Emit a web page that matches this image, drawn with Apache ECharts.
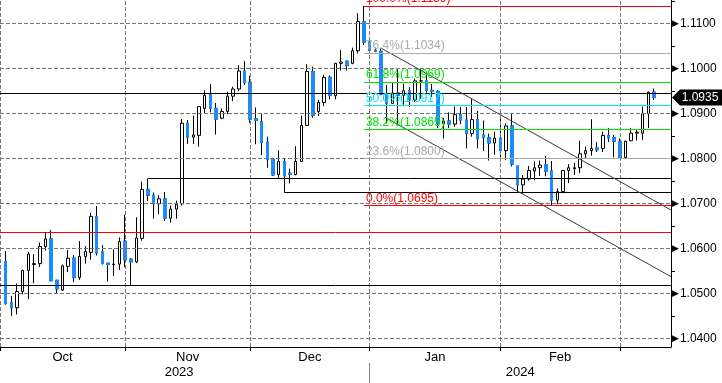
<!DOCTYPE html>
<html><head><meta charset="utf-8">
<script src="https://cdn.jsdelivr.net/npm/echarts@6/dist/echarts.min.js"></script>
<style>html,body{margin:0;padding:0;background:#fff}#c{width:722px;height:383px}</style>
</head><body><div id="c"></div>
<script>
// ---------- DATA ----------
const dataDates = [
'2023-10-02','2023-10-03','2023-10-04','2023-10-05','2023-10-06',
'2023-10-09','2023-10-10','2023-10-11','2023-10-12','2023-10-13',
'2023-10-16','2023-10-17','2023-10-18','2023-10-19','2023-10-20',
'2023-10-23','2023-10-24','2023-10-25','2023-10-26','2023-10-27',
'2023-10-30','2023-10-31',
'2023-11-01','2023-11-02','2023-11-03',
'2023-11-06','2023-11-07','2023-11-08','2023-11-09','2023-11-10',
'2023-11-13','2023-11-14','2023-11-15','2023-11-16','2023-11-17',
'2023-11-20','2023-11-21','2023-11-22','2023-11-23','2023-11-24',
'2023-11-27','2023-11-28','2023-11-29','2023-11-30',
'2023-12-01',
'2023-12-04','2023-12-05','2023-12-06','2023-12-07','2023-12-08',
'2023-12-11','2023-12-12','2023-12-13','2023-12-14','2023-12-15',
'2023-12-18','2023-12-19','2023-12-20','2023-12-21','2023-12-22',
'2023-12-25','2023-12-26','2023-12-27','2023-12-28','2023-12-29',
'2024-01-01','2024-01-02','2024-01-03','2024-01-04','2024-01-05',
'2024-01-08','2024-01-09','2024-01-10','2024-01-11','2024-01-12',
'2024-01-15','2024-01-16','2024-01-17','2024-01-18','2024-01-19',
'2024-01-22','2024-01-23','2024-01-24','2024-01-25','2024-01-26',
'2024-01-29','2024-01-30','2024-01-31',
'2024-02-01','2024-02-02',
'2024-02-05','2024-02-06','2024-02-07','2024-02-08','2024-02-09',
'2024-02-12','2024-02-13','2024-02-14','2024-02-15','2024-02-16',
'2024-02-19','2024-02-20','2024-02-21','2024-02-22','2024-02-23',
'2024-02-26','2024-02-27','2024-02-28','2024-02-29',
'2024-03-01',
'2024-03-04','2024-03-05','2024-03-06','2024-03-07','2024-03-08'
];
const padBefore = ['2023-09-29'];
const padAfter = ['2024-03-11','2024-03-12','2024-03-13'];

const openVals = [
1.0570,1.0479,1.0468,1.0504,1.0551, 1.0564,1.0566,1.0604,1.0621,1.0529, 1.0507,1.0560,1.0578,1.0535,1.0582, 1.0591,1.0671,1.0592,1.0567,1.0564, 1.0565,1.0616,
1.0576,1.0570,1.0622, 1.0731,1.0718,1.0699,1.0710,1.0667, 1.0687,1.0699,1.0878,1.0847,1.0851, 1.0911,1.0941,1.0911,1.0889,1.0904, 1.0938,1.0954,1.0994,1.0969,
1.0888, 1.0881,1.0836,1.0798,1.0764,1.0793, 1.0767,1.0764,1.0793,1.0873,1.0993, 1.0904,1.0924,1.0980,1.0939,1.1011, 1.1016,1.1011,1.1039,1.1104,1.1058,
1.1040,1.1038,1.0942,1.0922,1.0945, 1.0940,1.0950,1.0930,1.0972,1.0972, 1.0951,1.0949,1.0877,1.0883,1.0876, 1.0897,1.0885,1.0855,1.0886,1.0852, 1.0846,1.0834,1.0845,
1.0817,1.0872, 1.0783,1.0741,1.0754,1.0772,1.0779, 1.0786,1.0772,1.0707,1.0726,1.0773, 1.0777,1.0779,1.0810,1.0817,1.0823, 1.0822,1.0851,1.0846,1.0838,
1.0802, 1.0839,1.0856,1.0856,1.0899,1.0947
];
const highVals = [
1.0594,1.0494,1.0522,1.0552,1.0592, 1.0587,1.0613,1.0634,1.0641,1.0529, 1.0564,1.0596,1.0585,1.0616,1.0605, 1.0679,1.0694,1.0607,1.0567,1.0598, 1.0624,1.0675,
1.0578,1.0669,1.0748, 1.0755,1.0724,1.0718,1.0725,1.0695, 1.0706,1.0887,1.0885,1.0895,1.0915, 1.0951,1.0965,1.0923,1.0911,1.0948, 1.0959,1.1007,1.1016,1.0983,
1.0913, 1.0900,1.0848,1.0800,1.0818,1.0800, 1.0777,1.0827,1.0895,1.1009,1.1004, 1.0930,1.0986,1.0984,1.1012,1.1041, 1.1016,1.1046,1.1122,1.1139,1.1070,
1.1046,1.1045,1.0963,1.0968,1.0998, 1.0966,1.0958,1.0977,1.0999,1.0992, 1.0965,1.0952,1.0890,1.0902,1.0915, 1.0914,1.0914,1.0932,1.0905,1.0884, 1.0855,1.0859,1.0889,
1.0878,1.0898, 1.0783,1.0763,1.0783,1.0793,1.0795, 1.0805,1.0794,1.0733,1.0773,1.0787, 1.0790,1.0839,1.0826,1.0887,1.0836, 1.0859,1.0867,1.0852,1.0844,
1.0839, 1.0867,1.0863,1.0915,1.0948,1.0955
];
const lowVals = [
1.0475,1.0450,1.0453,1.0498,1.0487, 1.0522,1.0558,1.0595,1.0527,1.0500, 1.0505,1.0547,1.0525,1.0530,1.0566, 1.0575,1.0584,1.0564,1.0526,1.0538, 1.0552,1.0558,
1.0517,1.0567,1.0617, 1.0705,1.0666,1.0676,1.0661,1.0657, 1.0666,1.0695,1.0832,1.0832,1.0826, 1.0900,1.0902,1.0853,1.0887,1.0898, 1.0927,1.0949,1.0963,1.0879,
1.0831, 1.0807,1.0779,1.0761,1.0755,1.0724, 1.0744,1.0762,1.0792,1.0872,1.0890, 1.0894,1.0916,1.0931,1.0931,1.0995, 1.0995,1.1009,1.1033,1.1052,1.1035,
1.1036,1.0940,1.0877,1.0922,1.0877, 1.0916,1.0914,1.0925,1.0932,1.0946, 1.0936,1.0867,1.0844,1.0867,1.0870, 1.0876,1.0822,1.0848,1.0822,1.0816, 1.0795,1.0808,1.0793,
1.0796,1.0782, 1.0723,1.0722,1.0750,1.0751,1.0761, 1.0760,1.0695,1.0698,1.0722,1.0745, 1.0763,1.0767,1.0800,1.0806,1.0814, 1.0814,1.0836,1.0802,1.0799,
1.0799, 1.0838,1.0840,1.0841,1.0867,1.0930
];
const closeVals = [
1.0477,1.0468,1.0504,1.0551,1.0587, 1.0566,1.0604,1.0621,1.0528,1.0510, 1.0561,1.0578,1.0535,1.0582,1.0593, 1.0671,1.0590,1.0566,1.0564,1.0565, 1.0615,1.0574,
1.0570,1.0623,1.0731, 1.0718,1.0699,1.0710,1.0667,1.0687, 1.0698,1.0878,1.0847,1.0852,1.0915, 1.0940,1.0911,1.0887,1.0904,1.0938, 1.0954,1.0994,1.0968,1.0887,
1.0884, 1.0835,1.0798,1.0763,1.0793,1.0761, 1.0764,1.0793,1.0873,1.0993,1.0895, 1.0924,1.0980,1.0940,1.1011,1.1014, 1.1006,1.1039,1.1104,1.1058,1.1040,
1.1038,1.0942,1.0922,1.0945,1.0940, 1.0950,1.0930,1.0972,1.0972,1.0951, 1.0949,1.0877,1.0883,1.0876,1.0897, 1.0885,1.0855,1.0886,1.0843,1.0846, 1.0834,1.0845,1.0817,
1.0872,1.0787, 1.0741,1.0754,1.0773,1.0779,1.0785, 1.0771,1.0707,1.0726,1.0773,1.0779, 1.0779,1.0810,1.0817,1.0822,1.0819, 1.0851,1.0845,1.0838,1.0802,
1.0838, 1.0856,1.0858,1.0899,1.0947,1.0935
];

// Fibonacci retracement (swing low / swing high) and its ratios
const fibLowDate = '2024-02-13', fibLow = 1.0695;
const fibHighDate = '2023-12-28', fibHigh = 1.1139;
const fibRatios = [1.0, 0.764, 0.618, 0.5, 0.382, 0.236, 0.0];

// full-width horizontal levels
const levelValues = [1.0945, 1.0636, 1.0518];
// levels starting at a candle and running right
const rayStartDates = ['2023-11-06', '2023-12-08'];
const rayValues = [1.0755, 1.0724];
// descending channel (start point, end point)
const channelUpper = [['2024-01-02', 1.1045], ['2024-03-13', 1.0685]];
const channelLower = [['2024-01-03', 1.0889], ['2024-03-13', 1.0537]];

// price axis
const yLabelValues = [1.04, 1.05, 1.06, 1.07, 1.08, 1.09, 1.10, 1.11];
const yMinorTicks = [1.040,1.045,1.050,1.055,1.060,1.065,1.070,1.075,1.080,1.085,1.090,1.095,1.100,1.105,1.110,1.115];
const Y_MIN = 1.03807, Y_MAX = 1.11518;
const monthNames = ['Jan','Feb','Mar','Apr','May','Jun','Jul','Aug','Sep','Oct','Nov','Dec'];

// ---------- STYLES ----------
const FONT = '"Liberation Sans", Arial, sans-serif';
const BLUE = '#1a8cff';
const fibColors = ['#ff0000','#aaaaaa','#00e600','#00e8f0','#00e600','#aaaaaa','#ff0000'];
const levelColors = ['#000000','#ff0000','#000000'];
const gridStyle = () => ({ color: '#777777', width: 1, type: 'dashed' });

// ---------- BUILD ----------
const axisDates = padBefore.concat(dataDates, padAfter);
const N = axisDates.length;
const off = padBefore.length;
const idx = d => axisDates.indexOf(d);
const lastIdx = N - 1;
const EMPTY = ['-','-','-','-'];

const candleData = axisDates.map((d, i) => {
  const k = i - off;
  if (k < 0 || k >= dataDates.length) return EMPTY;
  return [openVals[k], closeVals[k], lowVals[k], highVals[k]];
});
const bearBodies = axisDates.map((d, i) => {
  const k = i - off;
  if (k < 0 || k >= dataDates.length || closeVals[k] >= openVals[k]) return EMPTY;
  return [openVals[k], closeVals[k], closeVals[k], openVals[k]];
});

const monthEnds = [];
for (let i = 0; i < N - 1; i++) {
  if (axisDates[i].slice(0, 7) !== axisDates[i + 1].slice(0, 7)) monthEnds.push(i);
}
const monthMids = [], monthLabelMap = {};
for (let j = 1; j < monthEnds.length; j++) {
  const m = (monthEnds[j - 1] + monthEnds[j]) / 2;
  monthMids.push(m);
  monthLabelMap[m] = monthNames[parseInt(axisDates[monthEnds[j]].slice(5, 7), 10) - 1];
}
const yearBreaks = [], yearMids = [], yearLabelMap = {};
let ys = 0;
for (let i = 0; i < N - 1; i++) {
  if (axisDates[i].slice(0, 4) !== axisDates[i + 1].slice(0, 4)) {
    yearBreaks.push(i);
    const m = (ys + i) / 2 - 1; yearMids.push(m); yearLabelMap[m] = axisDates[i].slice(0, 4);
    ys = i;
  }
}
{ const m = (ys + N - 1) / 2; yearMids.push(m); yearLabelMap[m] = axisDates[N - 1].slice(0, 4); }

const markLines = [];
// price grid
yLabelValues.forEach(v => markLines.push([
  { coord: [0, v], lineStyle: gridStyle(), label: { show: false } },
  { coord: [lastIdx, v] }
]));
// month grid
monthEnds.forEach(i => markLines.push([
  { coord: [i, Y_MIN], lineStyle: gridStyle(), label: { show: false } },
  { coord: [i, Y_MAX] }
]));
levelValues.forEach((v, i) => markLines.push([
  { coord: [0, v], lineStyle: { color: levelColors[i], width: 1, type: 'solid' }, label: { show: false } },
  { coord: [lastIdx, v] }
]));
rayStartDates.forEach((d, i) => markLines.push([
  { coord: [idx(d), rayValues[i]], lineStyle: { color: '#000', width: 1, type: 'solid' }, label: { show: false } },
  { coord: [lastIdx, rayValues[i]] }
]));
[channelUpper, channelLower].forEach(ch => markLines.push([
  { coord: [idx(ch[0][0]), ch[0][1]], lineStyle: { color: '#3a3a3a', width: 1, type: 'solid' }, label: { show: false } },
  { coord: [idx(ch[1][0]), ch[1][1]] }
]));
const fibStart = idx(fibHighDate);
fibRatios.forEach((r, i) => {
  const lv = fibLow + r * (fibHigh - fibLow);
  markLines.push([
    { coord: [fibStart, lv], lineStyle: { color: fibColors[i], width: 1, type: 'solid' },
      label: { show: true, position: 'insideStartTop', distance: [2, 1], color: fibColors[i], fontSize: 12, fontFamily: FONT,
               formatter: (r * 100).toFixed(1) + '%(' + lv.toFixed(4) + ')' } },
    { coord: [lastIdx, lv] }
  ]);
});

const lastClose = closeVals[closeVals.length - 1];

const chart = echarts.init(document.getElementById('c'), null, { renderer: 'canvas', width: 722, height: 383 });
chart.setOption({
  animation: false,
  backgroundColor: '#fff',
  textStyle: { fontFamily: FONT },
  grid: { left: -1.4, right: 51, top: 0, bottom: 36, containLabel: false },
  xAxis: [
    { type: 'category', data: axisDates, boundaryGap: false, position: 'bottom',
      axisLine: { onZero: false, lineStyle: { color: '#000', width: 1 } },
      axisTick: { show: true, interval: i => monthEnds.includes(i), length: 4, lineStyle: { color: '#000' } },
      axisLabel: { show: false },
      splitLine: { show: false } },
    { type: 'value', min: 0, max: N - 1, position: 'bottom',
      axisLine: { show: false, onZero: false }, axisTick: { show: false }, splitLine: { show: false },
      axisLabel: { customValues: monthMids, formatter: v => monthLabelMap[v] || '', margin: 4, color: '#000', fontSize: 13, fontFamily: FONT } },
    { type: 'value', min: 0, max: N - 1, position: 'bottom',
      axisLine: { show: false, onZero: false }, axisTick: { show: false }, splitLine: { show: false },
      axisLabel: { customValues: yearMids, formatter: v => yearLabelMap[v] || '', margin: 19, color: '#000', fontSize: 13, fontFamily: FONT } },
    { type: 'value', min: 0, max: N - 1, position: 'bottom', offset: 16,
      axisLine: { show: false, onZero: false }, splitLine: { show: false }, axisLabel: { show: false },
      axisTick: { show: true, customValues: yearBreaks, length: 22, lineStyle: { color: '#888' } } }
  ],
  yAxis: {
    type: 'value', position: 'right', min: Y_MIN, max: Y_MAX,
    axisLine: { show: true, onZero: false, lineStyle: { color: '#000' } },
    axisTick: { show: true, customValues: yMinorTicks, length: 4, lineStyle: { color: '#000' } },
    splitLine: { show: false },
    axisLabel: { customValues: yLabelValues, margin: 1,
      formatter: v => '{t|\u25B6}{v|' + v.toFixed(4) + '}',
      rich: { t: { fontSize: 9, color: '#000', fontFamily: 'DejaVu Sans' },
              v: { fontSize: 12, color: '#000', fontFamily: FONT, padding: [0, 0, 0, 1] } } }
  },
  series: [
    { type: 'candlestick', name: 'EURUSD', data: candleData, barWidth: 3, z: 3,
      itemStyle: { color: '#fff', color0: BLUE, borderColor: '#000', borderColor0: '#000', borderWidth: 1 },
      markLine: { symbol: ['none', 'none'], silent: true, animation: false, precision: 6, data: markLines },
      markPoint: { silent: true, animation: false,
        symbol: 'path://M0,8L8,0L50,0L50,16L8,16Z', symbolSize: [50, 16], symbolKeepAspect: false, symbolOffset: [26, 0],
        itemStyle: { color: '#000' },
        label: { show: true, position: 'inside', color: '#fff', fontSize: 12, fontFamily: FONT, offset: [3, 0],
                 formatter: lastClose.toFixed(4) },
        data: [{ coord: [lastIdx, lastClose], value: lastClose }] } },
    { type: 'candlestick', name: 'bear', data: bearBodies, barWidth: 3, z: 4,
      itemStyle: { color: BLUE, color0: BLUE, borderColor: BLUE, borderColor0: BLUE, borderWidth: 1 } }
  ]
});
</script></body></html>
